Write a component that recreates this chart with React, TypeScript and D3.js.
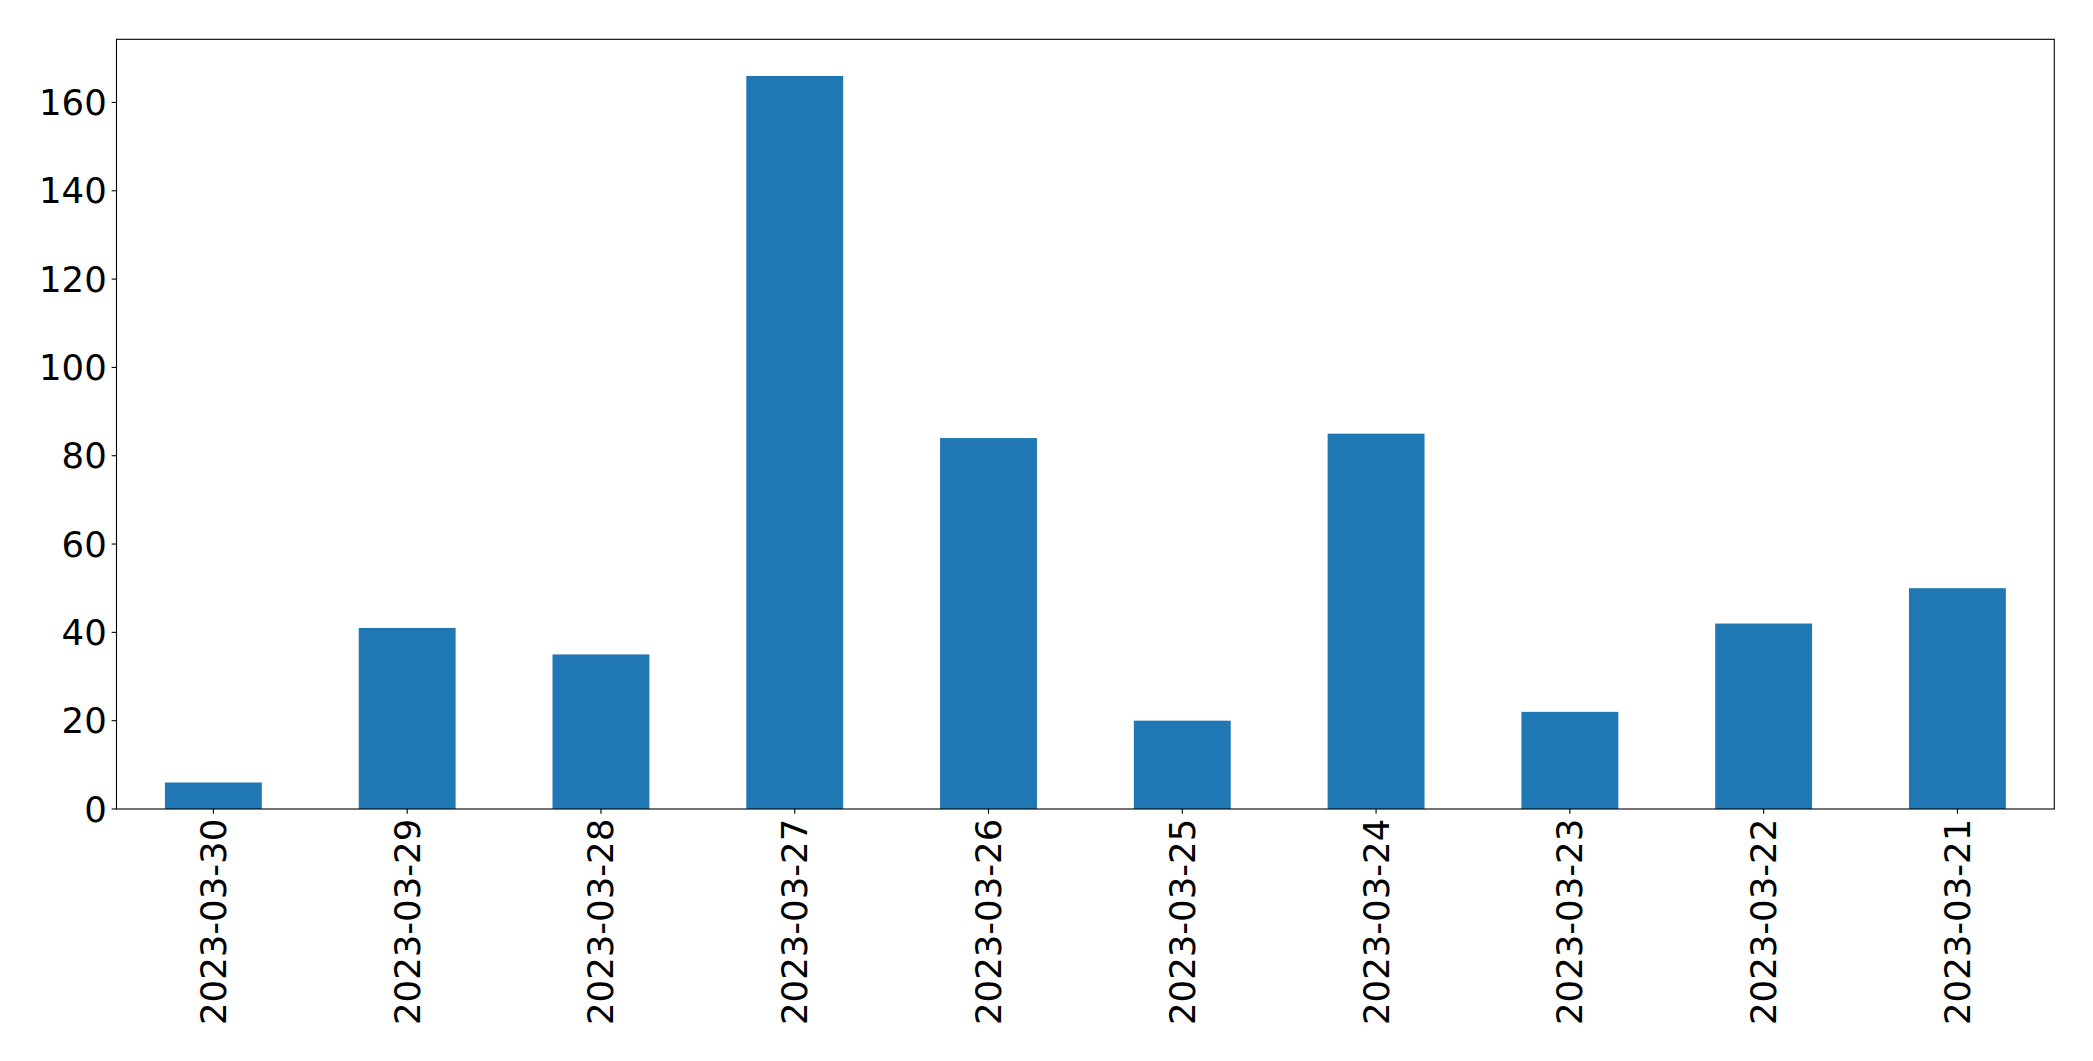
import React from "react";
import * as d3 from "d3";

const categories = ["2023-03-30", "2023-03-29", "2023-03-28", "2023-03-27", "2023-03-26", "2023-03-25", "2023-03-24", "2023-03-23", "2023-03-22", "2023-03-21"];
const values = [6, 41, 35, 166, 84, 20, 85, 22, 42, 50];
const yTicks = [0, 20, 40, 60, 80, 100, 120, 140, 160];

const W = 2093;
const H = 1061;
const M = { left: 116.5, right: 2054.3, top: 39.3, bottom: 809 };
const FONT = "'DejaVu Sans', sans-serif";
const FS = 35.5;
const TICK = 4.86;
const PAD = 4.86;

export default function App() {
  const x = d3.scaleBand<string>().domain(categories).range([M.left, M.right]).paddingInner(0.5).paddingOuter(0.25);
  const yMax = d3.max(values)! * 1.05;
  const y = d3.scaleLinear().domain([0, yMax]).range([M.bottom, M.top]);

  return (
    <svg width={W} height={H} style={{ position: "absolute", left: 0, top: 0, background: "#fff" }}>
      <rect x={0} y={0} width={W} height={H} fill="#fff" />
      {values.map((v, i) => (
        <rect
          key={categories[i]}
          x={x(categories[i])!}
          width={x.bandwidth()}
          y={y(v)}
          height={y(0) - y(v)}
          fill="#1f77b4"
        />
      ))}
      <rect
        x={M.left}
        y={M.top}
        width={M.right - M.left}
        height={M.bottom - M.top}
        fill="none"
        stroke="#000"
        strokeWidth={1.1}
      />
      {yTicks.map((t) => (
        <g key={t}>
          <line x1={M.left - TICK} x2={M.left} y1={y(t)} y2={y(t)} stroke="#000" strokeWidth={1.1} />
          <text
            x={M.left - TICK - PAD}
            y={y(t)}
            textAnchor="end"
            dominantBaseline="central"
            fontFamily={FONT}
            fontSize={FS}
            fill="#000"
          >
            {t}
          </text>
        </g>
      ))}
      {categories.map((c) => {
        const cx = x(c)! + x.bandwidth() / 2;
        const ty = M.bottom + TICK + PAD;
        return (
          <g key={c}>
            <line x1={cx} x2={cx} y1={M.bottom} y2={M.bottom + TICK} stroke="#000" strokeWidth={1.1} />
            <text
              transform={`translate(${cx},${ty}) rotate(-90)`}
              textAnchor="end"
              dominantBaseline="central"
              fontFamily={FONT}
              fontSize={FS}
              fill="#000"
            >
              {c}
            </text>
          </g>
        );
      })}
    </svg>
  );
}
